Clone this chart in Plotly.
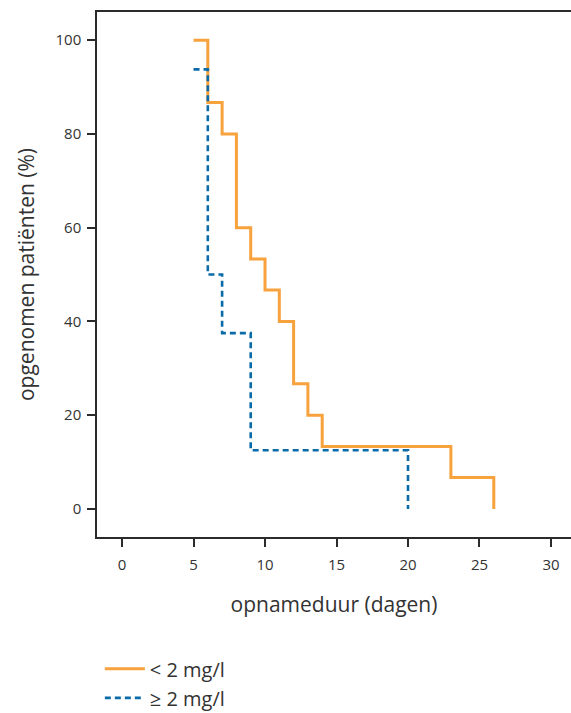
import plotly.graph_objects as go

# Data (Kaplan-Meier style step curves)
days_lt2 = [5, 6, 7, 8, 9, 10, 11, 12, 13, 14, 23, 26]
pct_lt2 = [100, 86.7, 80, 60, 53.3, 46.7, 40, 26.7, 20, 13.3, 6.7, 0]

days_ge2 = [5, 6, 7, 9, 20]
pct_ge2 = [93.75, 50, 37.5, 12.5, 0]

x_ticks = [0, 5, 10, 15, 20, 25, 30]
y_ticks = [0, 20, 40, 60, 80, 100]

orange = "#F7A23C"
blue = "#0B6BA8"
axis_col = "#2b2b2b"
text_col = "#333333"
font_family = "'Open Sans', Lato, sans-serif"

fig = go.Figure()
fig.add_trace(go.Scatter(
    x=days_lt2, y=pct_lt2, mode="lines", name="< 2 mg/l",
    line=dict(shape="hv", color=orange, width=3),
))
fig.add_trace(go.Scatter(
    x=days_ge2, y=pct_ge2, mode="lines", name="≥ 2 mg/l",
    line=dict(shape="hv", color=blue, width=2.6, dash="6px,4px"),
))

fig.update_layout(
    width=571, height=713,
    margin=dict(l=97, r=0, t=12, b=176, autoexpand=False),
    plot_bgcolor="white", paper_bgcolor="white",
    font=dict(family=font_family, color=text_col),
    showlegend=True,
    legend=dict(
        x=0.006, y=-0.214, xanchor="left", yanchor="top",
        orientation="v", font=dict(size=20, color=text_col),
        bgcolor="rgba(0,0,0,0)", tracegroupgap=0, itemwidth=40,
    ),
    xaxis=dict(
        range=[-1.75, 31.4], tickvals=x_ticks, ticks="outside", ticklen=8,
        tickwidth=2, tickcolor=axis_col, showline=True, linecolor=axis_col,
        linewidth=1.5, mirror=True, showgrid=False, zeroline=False,
        tickfont=dict(size=15, color=text_col), ticklabelstandoff=5,
        title=dict(text="opnameduur (dagen)", font=dict(size=21, color=text_col), standoff=25),
    ),
    yaxis=dict(
        range=[-6, 106], tickvals=y_ticks, ticks="outside", ticklen=8,
        tickwidth=2, tickcolor=axis_col, showline=True, linecolor=axis_col,
        linewidth=1.5, mirror=False, showgrid=False, zeroline=False,
        tickfont=dict(size=15, color=text_col), ticklabelstandoff=3,
        title=dict(text="opgenomen patiënten (%)", font=dict(size=21, color=text_col), standoff=15),
    ),
)

fig.write_html("out.html", config={"displayModeBar": False},
               post_script="document.body.style.margin='0';")
